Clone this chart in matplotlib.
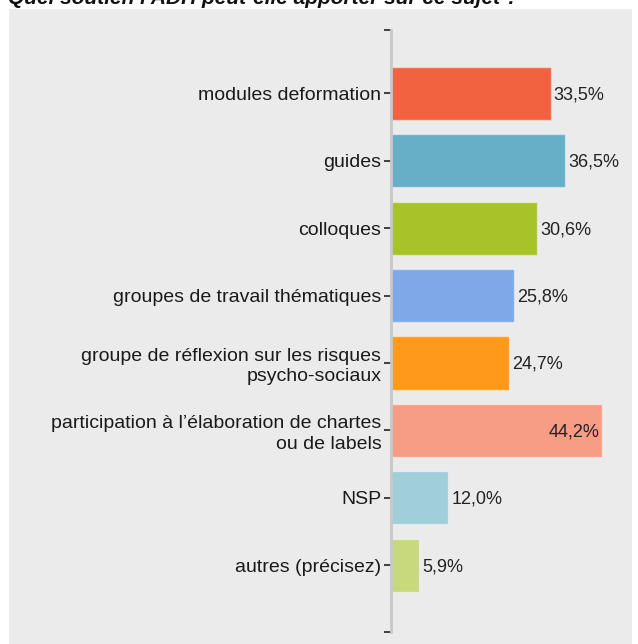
import matplotlib.pyplot as plt
from matplotlib.patches import Rectangle

plt.rcParams['font.family'] = ['Liberation Sans', 'DejaVu Sans']

categories = ['modules deformation', 'guides', 'colloques',
              'groupes de travail thématiques',
              'groupe de réflexion sur les risques\npsycho-sociaux',
              'participation à l\u2019élaboration de chartes\nou de labels',
              'NSP', 'autres (précisez)']
values = [33.5, 36.5, 30.6, 25.8, 24.7, 44.2, 12.0, 5.9]
colors = ['#f26241', '#66afc6', '#a8c22a', '#7ea8e8',
          '#ff991c', '#f79c85', '#a0cfdb', '#c8d87d']
title = "Quel soutien l'ADH peut-elle apporter sur ce sujet ?"

W, H = 638, 644
fig = plt.figure(figsize=(W / 100, H / 100), dpi=100)
fig.patches.append(Rectangle((9 / W, 0), (632 - 9) / W, (H - 9) / H,
                             transform=fig.transFigure, facecolor='#ebebeb',
                             edgecolor='none', zorder=-10))
fig.text(8 / W, 1 - 4 / H, title, fontsize=15, fontweight='bold',
         fontstyle='italic', va='baseline', ha='left', color='#111111')

ax = fig.add_axes([391 / W, (H - 632) / H, (632 - 391) / W, 602 / H])
ax.patch.set_visible(False)
ytop, ybot = -0.94, 7.99
pos = list(range(len(categories)))
ax.barh(pos, values, height=0.79, color=colors, edgecolor=(1, 1, 1, 0.45),
        linewidth=1)
ax.set_ylim(ybot, ytop)
ax.set_xlim(0, 50.5)

for i, v in enumerate(values):
    s = f'{v:.1f}%'.replace('.', ',')
    if v > 40:
        ax.text(v - 0.6, i + 0.02, s, ha='right', va='center', fontsize=13,
                color='#222222')
    else:
        ax.text(v + 0.6, i + 0.02, s, ha='left', va='center', fontsize=13,
                color='#222222')

ax.set_yticks([ytop] + pos + [ybot])
ax.set_yticklabels([''] + categories + [''], fontsize=14, color='#1a1a1a',
                   linespacing=1.25)
ax.tick_params(axis='y', length=5, width=1.3, color='#333333', pad=2)
ax.set_xticks([])
for side in ['top', 'right', 'bottom']:
    ax.spines[side].set_visible(False)
ax.spines['left'].set_color('#c8c8c8')
ax.spines['left'].set_linewidth(2)

fig.savefig('out.png', dpi=100)
